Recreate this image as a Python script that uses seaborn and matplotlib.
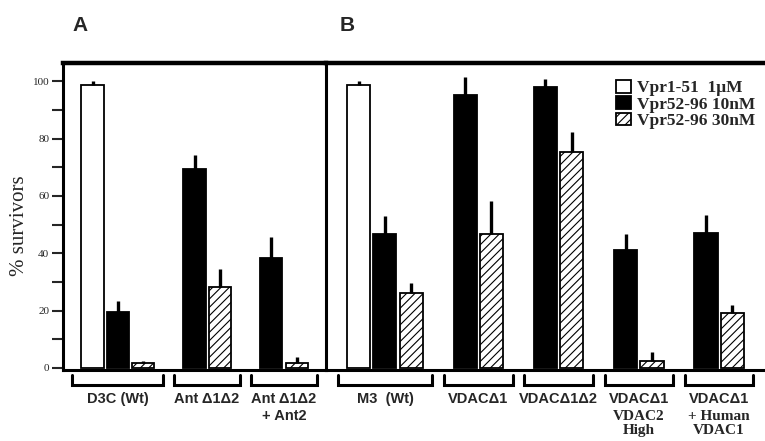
import numpy as np
import pandas as pd
import matplotlib.pyplot as plt
import matplotlib.transforms as mtransforms
import seaborn as sns

# legend / hue levels
treatments = ["Vpr1-51  1μM", "Vpr52-96 10nM", "Vpr52-96 30nM"]

# panel A
groups_a = ["D3C (Wt)", "Ant Δ1Δ2", "Ant Δ1Δ2 + Ant2"]
sans_lines_a = ["D3C (Wt)", "Ant Δ1Δ2", "Ant Δ1Δ2\n+ Ant2"]
serif_lines_a = ["", "", ""]
white_a = [98.8, np.nan, np.nan]
black_a = [19.4, 69.3, 38.2]
hatch_a = [1.8, 28.3, 1.6]
white_err_a = [1.2, np.nan, np.nan]
black_err_a = [4.1, 4.9, 7.3]
hatch_err_a = [0.6, 6.1, 2.3]

# panel B
groups_b = ["M3 (Wt)", "VDACΔ1", "VDACΔ1Δ2", "VDACΔ1 VDAC2 High", "VDACΔ1 + Human VDAC1"]
sans_lines_b = ["M3  (Wt)", "VDACΔ1", "VDACΔ1Δ2", "VDACΔ1", "VDACΔ1"]
serif_lines_b = ["", "", "", "VDAC2\nHigh", "+ Human\nVDAC1"]
white_b = [98.8, np.nan, np.nan, np.nan, np.nan]
black_b = [46.6, 95.1, 98.0, 41.3, 46.9]
hatch_b = [26.0, 46.6, 75.4, 2.5, 19.0]
white_err_b = [1.2, np.nan, np.nan, np.nan, np.nan]
black_err_b = [6.5, 6.4, 2.6, 5.4, 6.4]
hatch_err_b = [3.7, 11.6, 6.9, 3.2, 3.0]

bar_colors = ["white", "black", "white"]


def make_frame(groups, series, errors):
    rows = []
    for level, vals, errs in zip(treatments, series, errors):
        for g, v, e in zip(groups, vals, errs):
            if not np.isnan(v):
                rows.append({"group": g, "treatment": level, "value": v, "err": e})
    df = pd.DataFrame(rows)
    df["order"] = df["group"].map({g: i for i, g in enumerate(groups)})
    return df.sort_values(["treatment", "order"])


def draw_panel(ax, df, groups, sans_lines, serif_lines, xlim):
    sns.barplot(data=df, x="group", y="value", hue="treatment", order=groups,
                hue_order=treatments, palette=bar_colors, edgecolor="black",
                linewidth=1.3, width=0.98, gap=0.12, errorbar=None,
                legend=False, ax=ax)
    bars = list(ax.containers)
    for level, cont in zip(treatments, bars):
        sub = df[df["treatment"] == level].sort_values("order")
        if level == treatments[2]:
            for p in cont.patches:
                p.set_hatch("////")
        xs = [p.get_x() + p.get_width() / 2 for p in cont.patches]
        ax.errorbar(xs, sub["value"].values,
                    yerr=[np.zeros(len(sub)), sub["err"].values],
                    fmt="none", ecolor="black", elinewidth=2.4, capsize=0,
                    zorder=1)

    # brackets and group names under the axis
    trans = mtransforms.blended_transform_factory(ax.transData, ax.transAxes)
    all_patches = [p for c in bars for p in c.patches]
    for i, g in enumerate(groups):
        ps = [p for p in all_patches
              if round(p.get_x() + p.get_width() / 2) == i]
        left = min(p.get_x() for p in ps) - 0.12
        right = max(p.get_x() + p.get_width() for p in ps) + 0.12
        ax.plot([left, left, right, right], [-0.017, -0.049, -0.049, -0.017],
                color="black", lw=2.2, transform=trans, clip_on=False,
                solid_joinstyle="miter")
        mid = (left + right) / 2
        ax.text(mid, -0.072, sans_lines[i], transform=trans, ha="center",
                va="top", fontsize=10.5, family="Liberation Sans",
                fontweight="bold", linespacing=1.3)
        if serif_lines[i]:
            ax.text(mid, -0.131, serif_lines[i], transform=trans,
                    ha="center", va="top", fontsize=11,
                    family="Liberation Serif", fontweight="bold",
                    linespacing=1.12)

    ax.set_xlim(*xlim)
    ax.set_ylim(-0.7, 106.3)
    ax.set_xlabel("")
    ax.set_xticks([])


sns.set_style("white")
plt.rcParams["hatch.linewidth"] = 0.8
plt.rcParams["hatch.color"] = "black"

fig = plt.figure(figsize=(7.65, 4.41), dpi=100)
ax_a = fig.add_axes([0.0824, 0.161, 0.3438, 0.696])
ax_b = fig.add_axes([0.4261, 0.161, 0.5739, 0.696])

df_a = make_frame(groups_a, [white_a, black_a, hatch_a],
                  [white_err_a, black_err_a, hatch_err_a])
df_b = make_frame(groups_b, [white_b, black_b, hatch_b],
                  [white_err_b, black_err_b, hatch_err_b])

draw_panel(ax_a, df_a, groups_a, sans_lines_a, serif_lines_a, (-0.71, 2.71))
draw_panel(ax_b, df_b, groups_b, sans_lines_b, serif_lines_b, (-0.735, 4.735))

# y axis of panel A
yt = list(range(0, 101, 10))
ax_a.set_yticks(yt)
ax_a.set_yticklabels([str(t) if t % 20 == 0 else "" for t in yt],
                     family="Liberation Serif", fontsize=8)
ax_a.tick_params(axis="y", direction="out", length=8, width=1.5, pad=2,
                 left=True)
ax_a.set_ylabel("% survivors", fontsize=15, family="Liberation Serif")
ax_a.yaxis.set_label_coords(-0.13, 0.47)
ax_b.set_yticks([])
ax_b.set_ylabel("")

for ax in (ax_a, ax_b):
    for s in ax.spines.values():
        s.set_color("black")
        s.set_linewidth(2.2)
    ax.spines["top"].set_linewidth(3.2)
ax_a.spines["right"].set_visible(False)
ax_b.spines["right"].set_visible(False)

# legend
handles = [c.patches[0] for c in ax_b.containers
           if hasattr(c, "patches") and len(c.patches) > 0][:3]
ax_b.legend(handles, treatments, loc="upper left",
            bbox_to_anchor=(0.66, 0.945), frameon=False, borderpad=0,
            borderaxespad=0, handlelength=0.86, handleheight=0.75,
            handletextpad=0.35, labelspacing=0.0,
            prop={"family": "Liberation Serif", "weight": "bold",
                  "size": 12.5})

fig.text(0.1046, 0.943, "A", ha="center", va="center", fontsize=15,
         fontweight="bold", family="Liberation Sans")
fig.text(0.454, 0.943, "B", ha="center", va="center", fontsize=15,
         fontweight="bold", family="Liberation Sans")

fig.savefig("out.png", dpi=100)
plt.close(fig)
